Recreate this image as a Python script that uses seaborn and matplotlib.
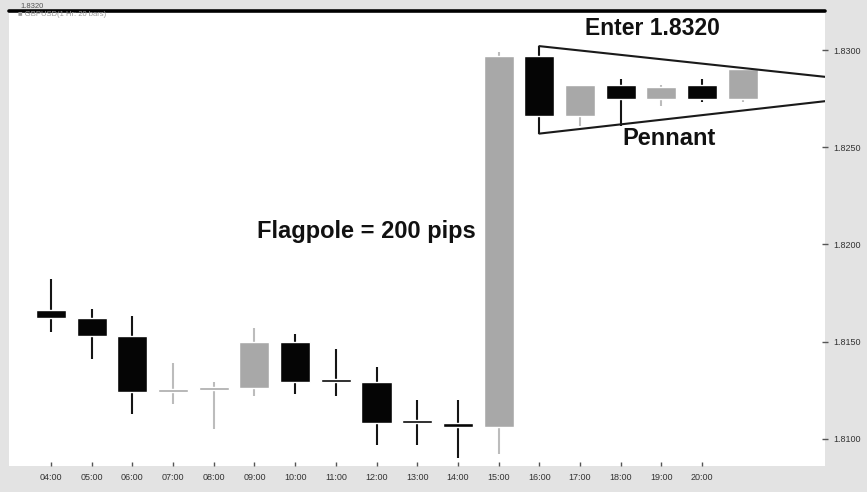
import numpy as np
import pandas as pd
import matplotlib
matplotlib.use("Agg")
import matplotlib.pyplot as plt
import seaborn as sns

# hourly GBPUSD bars
hours = ['04:00', '05:00', '06:00', '07:00', '08:00', '09:00', '10:00', '11:00', '12:00',
         '13:00', '14:00', '15:00', '16:00', '17:00', '18:00', '19:00', '20:00', '21:00']
opens = [1.8166, 1.8162, 1.8153, 1.8124, 1.8125, 1.8126, 1.8150, 1.8130, 1.8129,
         1.8109, 1.8108, 1.8106, 1.8297, 1.8266, 1.8282, 1.8275, 1.8282, 1.8275]
highs = [1.8182, 1.8167, 1.8163, 1.8139, 1.8129, 1.8157, 1.8154, 1.8146, 1.8137,
         1.8120, 1.8120, 1.8299, 1.8302, 1.8282, 1.8285, 1.8282, 1.8285, 1.8290]
lows = [1.8155, 1.8141, 1.8113, 1.8118, 1.8105, 1.8122, 1.8123, 1.8122, 1.8097,
        1.8097, 1.8090, 1.8092, 1.8257, 1.8261, 1.8261, 1.8271, 1.8273, 1.8273]
closes = [1.8162, 1.8153, 1.8124, 1.8125, 1.8126, 1.8150, 1.8129, 1.8129, 1.8108,
          1.8108, 1.8106, 1.8297, 1.8266, 1.8282, 1.8275, 1.8281, 1.8275, 1.8290]
tick_labels = hours[:17]
y_ticks = [1.8100, 1.8150, 1.8200, 1.8250, 1.8300]
entry_level = 1.8320

# pennant trend lines (start at the 16:00 bar)
pennant_x = [12, 20]
pennant_upper = [1.8302, 1.8284]
pennant_lower = [1.8257, 1.8276]

df = pd.DataFrame({'hour': hours, 'open': opens, 'high': highs, 'low': lows, 'close': closes})
df['pos'] = np.arange(len(df))
df['up'] = df['close'] > df['open']

sns.set_theme(style="white")
plt.rcParams['font.family'] = ['Liberation Sans', 'DejaVu Sans']

fig = plt.figure(figsize=(8.67, 4.92), dpi=100, facecolor='#e3e3e3')
ax = fig.add_axes([9 / 867, 26 / 492, 816 / 867, 457 / 492])
ax.set_facecolor('white')

body_col = np.where(df['up'], '#a8a8a8', '#050505')
wick_col = np.where(df['up'], '#bcbcbc', '#151515')
body_h = np.maximum((df['close'] - df['open']).abs(), 0.00015)
body_bottom = np.minimum(df['open'], df['close'])

ax.vlines(df['pos'], df['low'], df['high'], colors=wick_col, linewidth=1.5, zorder=2)
ax.bar(df['pos'], body_h, bottom=body_bottom, width=0.74, color=body_col, zorder=3)

ax.plot(pennant_x, pennant_upper, color='#1a1a1a', lw=1.5, zorder=4)
ax.plot(pennant_x, pennant_lower, color='#1a1a1a', lw=1.5, zorder=4)
ax.axhline(entry_level, color='black', lw=2.6, clip_on=False, zorder=5)

ax.set_xlim(-1.03, 19.02)
ax.set_ylim(1.8086, 1.83211)

ax.set_xticks(range(len(tick_labels)))
ax.set_xticklabels(tick_labels)
ax.yaxis.tick_right()
ax.set_yticks(y_ticks)
ax.set_yticklabels([f'{v:.4f}' for v in y_ticks])
ax.tick_params(axis='x', direction='in', length=3, width=1, color='#555555',
               labelsize=6.5, labelcolor='#333333', pad=5, bottom=True)
ax.tick_params(axis='y', direction='inout', length=4, width=1, color='#555555',
               labelsize=6.5, labelcolor='#333333', pad=4, right=True, left=False)
sns.despine(ax=ax, left=True, bottom=True, right=True, top=True)
ax.set_xlabel('')
ax.set_ylabel('')

ax.text(14.77, 1.83113, 'Enter 1.8320', fontsize=16.5, fontweight='bold',
        ha='center', va='center', color='#111111')
ax.text(15.2, 1.82547, 'Pennant', fontsize=17, fontweight='bold',
        ha='center', va='center', color='#111111')
ax.text(7.74, 1.82064, 'Flagpole = 200 pips', fontsize=17, fontweight='bold',
        ha='center', va='center', color='#111111')

fig.text(20 / 867, 1 - 7 / 492, '1.8320', fontsize=5.5, color='#555555', va='center')
fig.text(18 / 867, 1 - 15 / 492, '■ GBPUSD(1 Hr: 20 bars)', fontsize=5.5,
         color='#9a9a9a', va='center')

fig.savefig('out.png', dpi=100, facecolor=fig.get_facecolor())
